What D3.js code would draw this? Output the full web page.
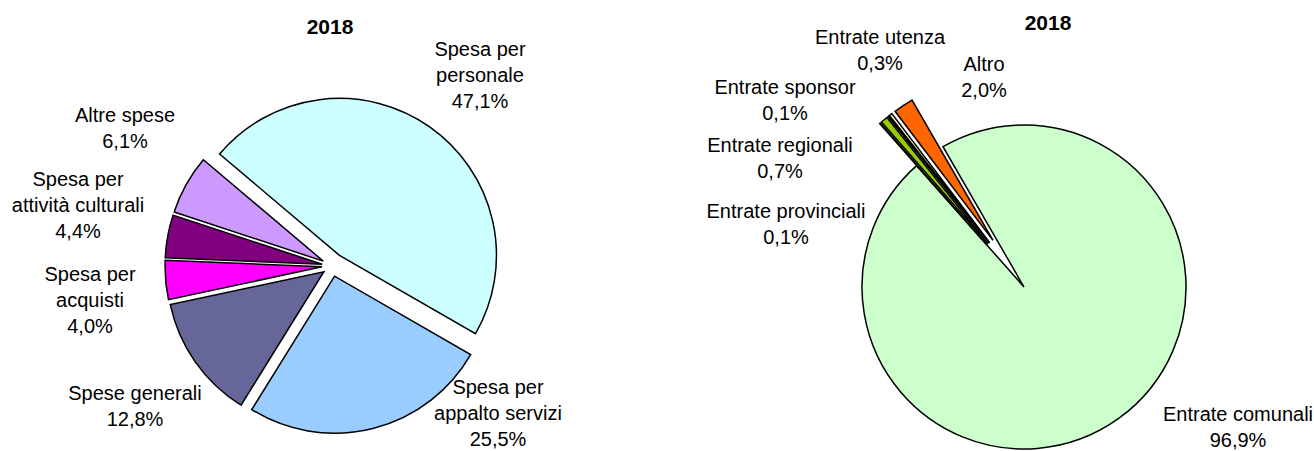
<!DOCTYPE html>
<html>
<head>
<meta charset="utf-8">
<script src="https://cdn.jsdelivr.net/npm/d3@7/dist/d3.min.js"></script>
<style>
  body { margin: 0; background: #fff; }
  svg text { font-family: "Liberation Sans", Arial, sans-serif; fill: #000; }
</style>
</head>
<body>
<svg id="chart" width="1314" height="451"></svg>
<script>
// data: expenses (left) and revenues (right), year 2018
const leftTitle = "2018";
const leftCategories = ["Spesa per\npersonale", "Spesa per\nappalto servizi", "Spese generali", "Spesa per\nacquisti", "Spesa per\nattività culturali", "Altre spese"];
const leftValues = [47.1, 25.5, 12.8, 4.0, 4.4, 6.1];

const rightTitle = "2018";
const rightCategories = ["Entrate comunali", "Entrate provinciali", "Entrate regionali", "Entrate sponsor", "Entrate utenza", "Altro"];
const rightValues = [96.9, 0.1, 0.7, 0.1, 0.3, 2.0];

// styling / layout
const leftColors = ["#CCFFFF", "#99CCFF", "#666699", "#FF00FF", "#800080", "#CC99FF"];
const rightColors = ["#CCFFCC", "#FFCC99", "#99CC00", "#993366", "#FFFFCC", "#FF6600"];
const deg = Math.PI / 180;

const pies = [
  {
    title: leftTitle, cats: leftCategories, vals: leftValues, colors: leftColors,
    cx: 332, cy: 266, r: 157, start: -49.8,
    explode: [13, 10.5, 10, 10, 10, 10],
    titlePos: [330, 27],
    // label offsets from pie centre (first line)
    labels: [[148, -217], [166, 121], [-197, 127], [-242, 8], [-254, -87], [-207, -151]]
  },
  {
    title: rightTitle, cats: rightCategories, vals: rightValues, colors: rightColors,
    cx: 1024, cy: 287, r: 162, start: -30,
    explode: [0, 56, 56, 56, 56, 56],
    titlePos: [1048, 23],
    labels: [[214, 127], [-238, -76], [-244, -142], [-239, -200], [-144, -250], [-40, -223]]
  }
];

const svg = d3.select("#chart");
const fmt = v => v.toFixed(1).replace(".", ",") + "%";
const lineH = 26;

pies.forEach(p => {
  const data = p.cats.map((c, i) => ({ name: c, value: p.vals[i], i: i }));
  const pie = d3.pie().sort(null).value(d => d.value)
    .startAngle(p.start * deg).endAngle(p.start * deg + 2 * Math.PI);
  const arc = d3.arc().innerRadius(0).outerRadius(p.r);

  const g = svg.append("g").attr("transform", `translate(${p.cx},${p.cy})`);

  g.selectAll("path")
    .data(pie(data))
    .join("path")
    .attr("d", arc)
    .attr("fill", d => p.colors[d.data.i])
    .attr("stroke", "#000")
    .attr("stroke-width", 1.5)
    .attr("stroke-linejoin", "miter")
    .attr("transform", d => {
      const mid = (d.startAngle + d.endAngle) / 2;
      const e = p.explode[d.data.i];
      return `translate(${e * Math.sin(mid)},${-e * Math.cos(mid)})`;
    });

  // labels
  const lab = g.selectAll("text.lab")
    .data(data)
    .join("text")
    .attr("class", "lab")
    .attr("text-anchor", "middle")
    .attr("font-size", "20px")
    .attr("x", d => p.labels[d.i][0])
    .attr("y", d => p.labels[d.i][1]);
  lab.each(function(d) {
    const lines = d.name.split("\n").concat([fmt(d.value)]);
    d3.select(this).selectAll("tspan")
      .data(lines)
      .join("tspan")
      .attr("x", p.labels[d.i][0])
      .attr("dy", (t, k) => k === 0 ? "0.35em" : lineH)
      .text(t => t);
  });

  svg.append("text")
    .attr("x", p.titlePos[0])
    .attr("y", p.titlePos[1])
    .attr("dy", "0.35em")
    .attr("text-anchor", "middle")
    .attr("font-size", "21px")
    .attr("font-weight", "bold")
    .text(p.title);
});
</script>
</body>
</html>
